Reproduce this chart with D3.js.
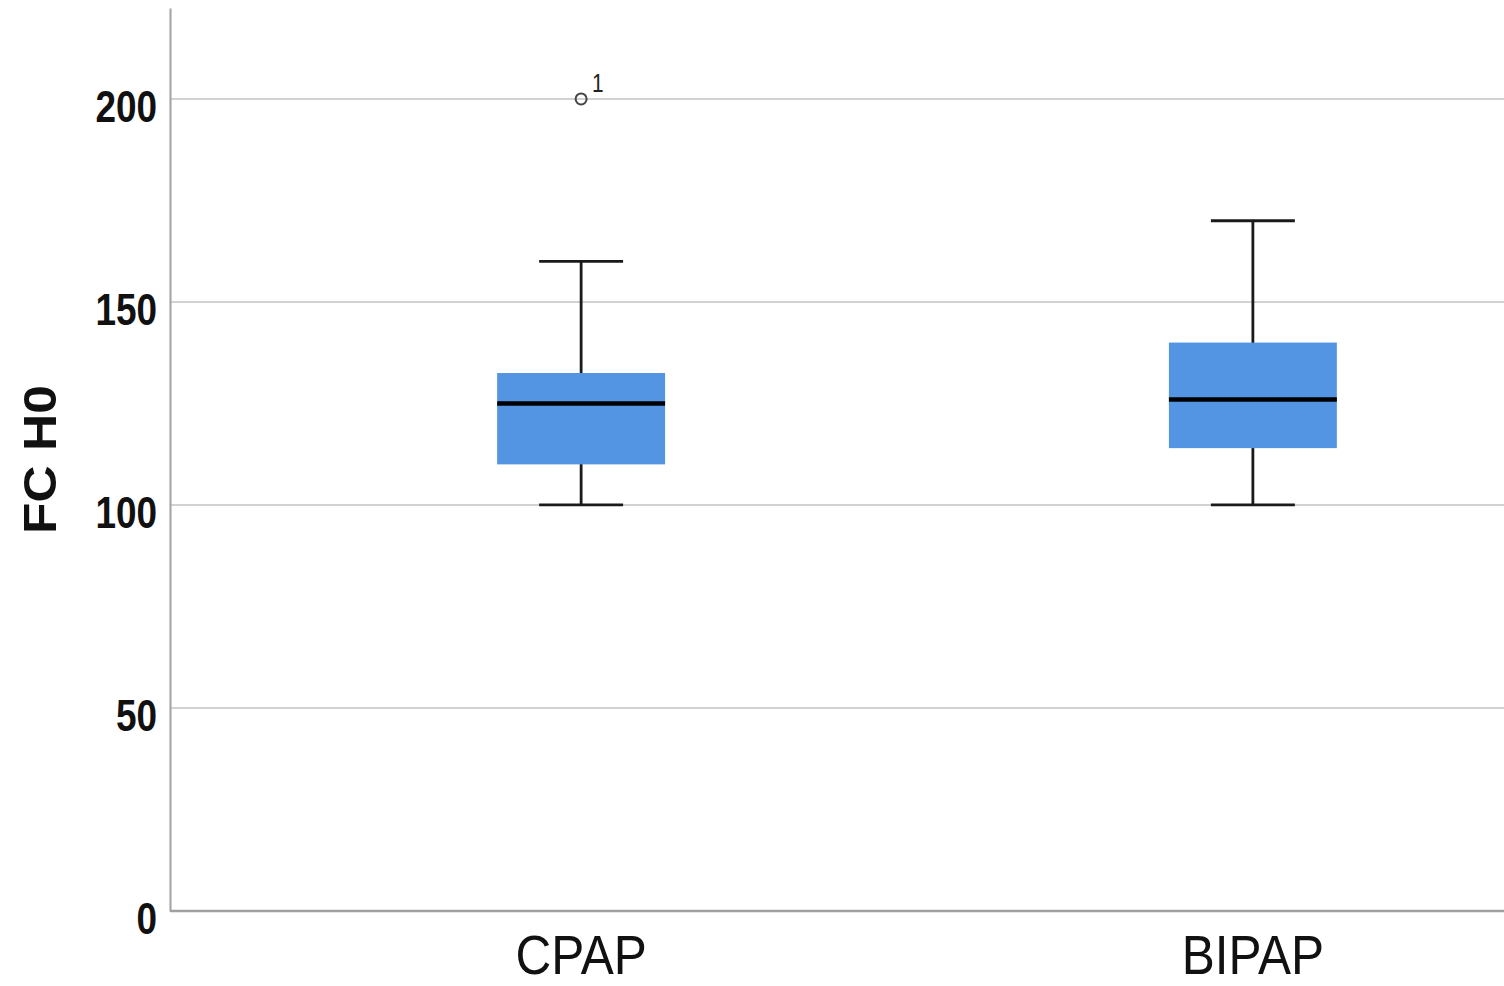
<!DOCTYPE html>
<html>
<head>
<meta charset="utf-8">
<script src="https://cdn.jsdelivr.net/npm/d3@7"></script>
<style>
  body { margin: 0; background: #fff; }
  .tick-label { font-family: "Liberation Sans", Arial, sans-serif; font-weight: bold; font-size: 45px; fill: #111; }
  .cat-label { font-family: "Liberation Sans", Arial, sans-serif; font-size: 55px; fill: #111; }
  .y-title { font-family: "Liberation Sans", Arial, sans-serif; font-weight: bold; font-size: 46px; fill: #111; }
</style>
</head>
<body>
<div id="chart"></div>
<script>
// groups and box statistics
const groups = ['CPAP', 'BIPAP'];
const whiskerLow = [100, 100];
const q1 = [110, 114];
const medians = [125, 126];
const q3 = [132.5, 140];
const whiskerHigh = [160, 170];
// outliers: [group index, value, case label]
const outliers = [[0, 200, '1']];
const yTicks = [0, 50, 100, 150, 200];
const yTitle = 'FC H0';

const W = 1504, H = 986;
const margin = { top: 8, left: 170, bottom: 75 };
const plotBottom = H - margin.bottom;

// squeeze or stretch text horizontally to match the picture's faces
function fitWidth (sel, k) {
  sel.each(function () {
    let len = this.getComputedTextLength();
    d3.select(this).attr('textLength', len * k).attr('lengthAdjust', 'spacingAndGlyphs');
  });
}

let svg = d3.select('#chart').append('svg')
  .attr('width', W)
  .attr('height', H);

let y = d3.scaleLinear()
  .domain([0, 222.4])
  .range([plotBottom, margin.top]);

// the plot area runs past the right edge of the picture
let x = d3.scaleBand()
  .domain(groups)
  .range([margin.left, 1664])
  .paddingInner(0)
  .paddingOuter(0.112);

let boxW = x.bandwidth() * 0.25;
let capW = x.bandwidth() * 0.125;
let cx = function (g) { return x(g) + x.bandwidth() / 2; };

// gridlines
svg.append('g')
  .selectAll('line')
  .data(yTicks.filter(function (d) { return d > 0; }))
  .enter().append('line')
  .attr('x1', margin.left)
  .attr('x2', W)
  .attr('y1', function (d) { return y(d); })
  .attr('y2', function (d) { return y(d); })
  .attr('stroke', '#d2d2d2')
  .attr('stroke-width', 2);

// y axis
let yAxis = svg.append('g')
  .attr('transform', `translate(${margin.left},0)`)
  .call(d3.axisLeft(y).tickValues(yTicks).tickSize(0).tickPadding(13));
yAxis.select('.domain').attr('stroke', '#a8a8a8').attr('stroke-width', 2.2);
yAxis.selectAll('.tick text')
  .attr('class', 'tick-label')
  .attr('font-size', null).attr('font-family', null)
  .attr('dy', '0.5em')
  .call(fitWidth, 0.82);

// x axis
let xAxis = svg.append('g')
  .attr('transform', `translate(0,${plotBottom})`)
  .call(d3.axisBottom(x).tickSize(0).tickPadding(23));
xAxis.select('.domain').attr('d', `M${margin.left},0H${W}`).attr('stroke', '#a0a0a0').attr('stroke-width', 2.5);
xAxis.selectAll('.tick text')
  .attr('class', 'cat-label')
  .attr('font-size', null).attr('font-family', null)
  .attr('dy', '0.72em')
  .call(fitWidth, 0.9);

// y title
svg.append('text')
  .attr('class', 'y-title')
  .attr('transform', `translate(56,${(margin.top + plotBottom) / 2}) rotate(-90)`)
  .attr('text-anchor', 'middle')
  .text(yTitle)
  .call(fitWidth, 1.12);

let boxes = svg.append('g')
  .selectAll('g')
  .data(groups.map(function (g, i) {
    return { g: g, lo: whiskerLow[i], q1: q1[i], med: medians[i], q3: q3[i], hi: whiskerHigh[i] };
  }))
  .enter().append('g');

// whisker stems
boxes.append('line')
  .attr('x1', function (d) { return cx(d.g); })
  .attr('x2', function (d) { return cx(d.g); })
  .attr('y1', function (d) { return y(d.lo); })
  .attr('y2', function (d) { return y(d.hi); })
  .attr('stroke', '#1a1a1a').attr('stroke-width', 2.8);
// caps
['lo', 'hi'].forEach(function (k) {
  boxes.append('line')
    .attr('x1', function (d) { return cx(d.g) - capW / 2; })
    .attr('x2', function (d) { return cx(d.g) + capW / 2; })
    .attr('y1', function (d) { return y(d[k]); })
    .attr('y2', function (d) { return y(d[k]); })
    .attr('stroke', '#1a1a1a').attr('stroke-width', 2.8);
});
// box
boxes.append('rect')
  .attr('x', function (d) { return cx(d.g) - boxW / 2; })
  .attr('width', boxW)
  .attr('y', function (d) { return y(d.q3); })
  .attr('height', function (d) { return y(d.q1) - y(d.q3); })
  .attr('fill', '#5394e3');
// median
boxes.append('line')
  .attr('x1', function (d) { return cx(d.g) - boxW / 2; })
  .attr('x2', function (d) { return cx(d.g) + boxW / 2; })
  .attr('y1', function (d) { return y(d.med); })
  .attr('y2', function (d) { return y(d.med); })
  .attr('stroke', '#000').attr('stroke-width', 4.5);

// outliers
let out = svg.append('g').selectAll('g').data(outliers).enter().append('g');
out.append('circle')
  .attr('cx', function (d) { return cx(groups[d[0]]); })
  .attr('cy', function (d) { return y(d[1]); })
  .attr('r', 5.5)
  .attr('fill', 'none')
  .attr('stroke', '#444').attr('stroke-width', 2);
out.append('text')
  .attr('x', function (d) { return cx(groups[d[0]]) + 11; })
  .attr('y', function (d) { return y(d[1]) - 7; })
  .attr('font-family', '"Liberation Sans", Arial, sans-serif')
  .attr('font-size', 26)
  .attr('fill', '#222')
  .text(function (d) { return d[2]; })
  .call(fitWidth, 0.8);
</script>
</body>
</html>
